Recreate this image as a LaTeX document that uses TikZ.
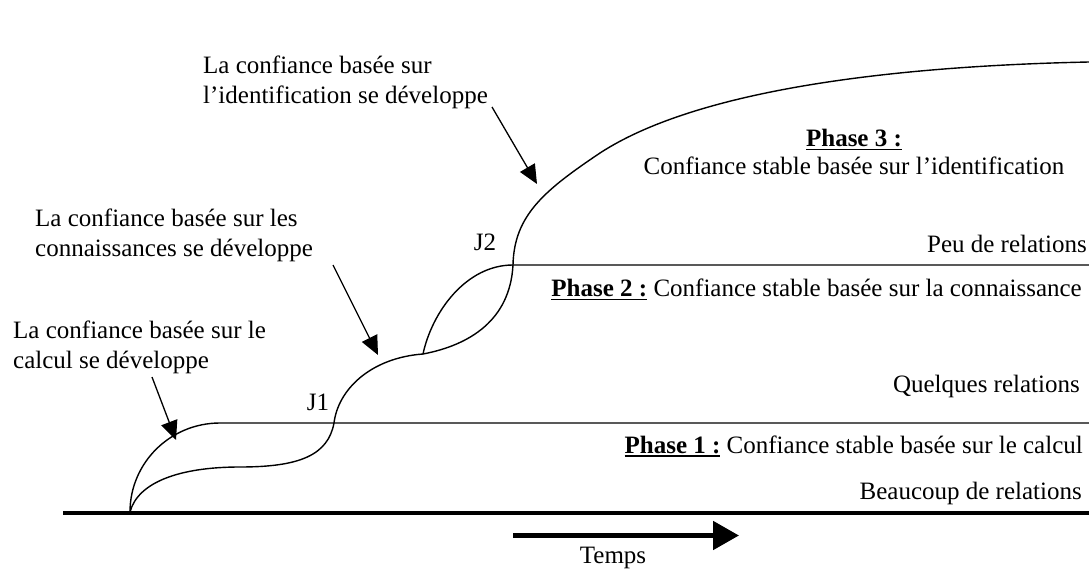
\documentclass[tikz,border=0pt]{standalone}
\usepackage{fontspec}
\setmainfont{Liberation Serif}
\usetikzlibrary{arrows.meta}

% bold, thickly underlined phase heading
\newcommand{\phasehead}[1]{\setbox0\hbox{\bfseries #1}\rlap{\rule[-3.5pt]{\wd0}{1.8pt}}\box0\relax}

\tikzset{
  txt/.style={inner sep=0pt, font=\fontsize{25}{30}\selectfont},
  curve/.style={line width=1.4pt},
  pointer/.style={line width=1.3pt, -{Triangle[length=19pt,width=17pt]}},
}

\begin{document}
\begin{tikzpicture}[x=1pt, y=-1pt]
\useasboundingbox (0,0) rectangle (1089,569);

% time axis
\coordinate (axL) at (63,513);
\coordinate (axR) at (1089,513);
\draw[line width=4pt] (axL) -- (axR);

\coordinate (tA) at (513,535.5);
\coordinate (tB) at (739,535.5);
\draw[line width=5pt, -{Triangle[length=26pt,width=28pt]}] (tA) -- (tB);
\node[txt, anchor=base] (temps) at (613,563) {Temps};

% level lines
\coordinate (s0) at (130,512);
\coordinate (p1) at (220,423);
\coordinate (p1r) at (1089,423);
\coordinate (j1) at (334,423);
\coordinate (k1) at (240,467);
\coordinate (m1) at (423,354);
\coordinate (p2) at (513,265);
\coordinate (p2r) at (1089,265);
\coordinate (m2) at (600,153);
\coordinate (p3r) at (1089,62);

% phase 1 rise and plateau
\draw[curve] (s0) .. controls (130,463) and (170,423) .. (p1) -- (p1r);
% transition J1
\draw[curve] (s0) .. controls (138,482) and (180,467) .. (k1)
  .. controls (300,467) and (328,455) .. (j1)
  .. controls (338,390) and (370,358) .. (m1);
% phase 2 rise and plateau
\draw[curve] (m1) .. controls (432,312) and (466,265) .. (p2) -- (p2r);
% transition J2 and phase 3
\draw[curve] (m1) .. controls (470,345) and (510,320) .. (p2)
  .. controls (514,215) and (545,190) .. (m2)
  .. controls (700,88) and (900,66) .. (p3r);

% labels on the left
\node[txt, anchor=north west, align=left] (c3) at (203,56)
  {La confiance basée sur\\l’identification se développe};
\node[txt, anchor=north west, align=left] (c2) at (35,209)
  {La confiance basée sur les\\connaissances se développe};
\node[txt, anchor=north west, align=left] (c1) at (13,321)
  {La confiance basée sur le\\calcul se développe};

\coordinate (a3s) at (492,107);
\coordinate (a3e) at (537,184);
\coordinate (a2s) at (333,265);
\coordinate (a2e) at (378,355);
\coordinate (a1s) at (152,377);
\coordinate (a1e) at (176,440);
\draw[pointer] (a3s) -- (a3e);
\draw[pointer] (a2s) -- (a2e);
\draw[pointer] (a1s) -- (a1e);

\node[txt, anchor=base] (J1) at (318,410) {J1};
\node[txt, anchor=base] (J2) at (485,251) {J2};

% phase texts on the right
\node[txt, anchor=base] (ph3) at (854,147) {\phasehead{Phase 3 :}};
\node[txt, anchor=base] (ph3t) at (854,175) {Confiance stable basée sur l’identification};
\node[txt, anchor=base east] (r3) at (1087,253) {Peu de relations};
\node[txt, anchor=base east] (ph2) at (1082,297) {\phasehead{Phase 2 :} Confiance stable basée sur la connaissance};
\node[txt, anchor=base east] (r2) at (1080,392) {Quelques relations};
\node[txt, anchor=base east] (ph1) at (1083,453) {\phasehead{Phase 1 :} Confiance stable basée sur le calcul};
\node[txt, anchor=base east] (r1) at (1082,499) {Beaucoup de relations};
\end{tikzpicture}
\end{document}
